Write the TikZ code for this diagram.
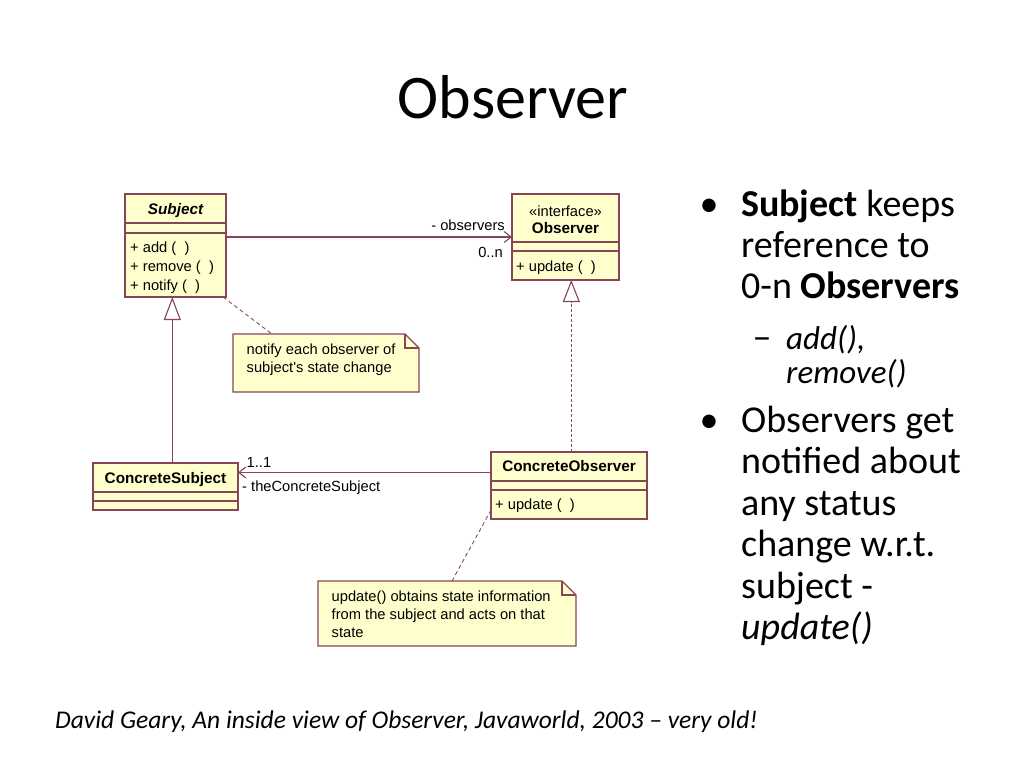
\documentclass[tikz,border=0pt]{standalone}
\usepackage{fontspec}
\setmainfont{Carlito}
\newfontfamily\umlfont{Liberation Sans}
\usetikzlibrary{arrows.meta,calc}
\definecolor{umlline}{RGB}{135,70,85}
\definecolor{umlfill}{RGB}{255,255,206}
\begin{document}
\begin{tikzpicture}[x=1pt,y=-1pt,
  umlbox/.style={draw=umlline, fill=umlfill, line width=1.1pt, inner sep=0pt, outer sep=0pt},
  compline/.style={draw=umlline, line width=1.1pt},
  notebody/.style={draw=none, fill=none, inner sep=0pt, outer sep=0pt},
  noteshape/.style={draw=umlline, fill=umlfill, line width=1.1pt, line join=miter},
  utext/.style={font=\umlfont\fontsize{14.7}{18}\selectfont, inner sep=0pt, anchor=base west},
  ubold/.style={font=\umlfont\bfseries\fontsize{15.3}{18}\selectfont, inner sep=0pt, anchor=base},
  assoc/.style={draw=umlline, line width=1.1pt, -{Straight Barb[length=7pt,width=11pt,line width=1.1pt]}},
  gen/.style={draw=umlline, line width=1.1pt, -{Triangle[open,fill=white,length=23pt,width=17pt,line width=1.1pt]}},
  real/.style={draw=umlline, line width=1pt, dash pattern=on 3pt off 2pt, -{Triangle[open,fill=white,length=22pt,width=17pt,line width=1.1pt]}},
  notelink/.style={draw=umlline!80!gray, line width=0.9pt, dash pattern=on 4pt off 3pt},
  bodytext/.style={font=\fontsize{38}{42}\selectfont, inner sep=0pt, anchor=base west},
  subtext/.style={font=\itshape\fontsize{33}{36}\selectfont, inner sep=0pt, anchor=base west}
]
\useasboundingbox (0,0) rectangle (1024,768);
\fill[white] (0,0) rectangle (1024,768);

% title
\node[font=\fontsize{62}{70}\selectfont, inner sep=0pt, anchor=base] (title) at (513,118) {Observer};

% Subject
\node[umlbox, minimum width=101pt, minimum height=103pt] (subject) at (175.5,245.5) {};
\draw[compline] (subject.west |- 0,223) -- (subject.east |- 0,223);
\draw[compline] (subject.west |- 0,233) -- (subject.east |- 0,233);
\node[ubold, font=\umlfont\bfseries\itshape\fontsize{15.3}{18}\selectfont] (subjname) at (175.5,214.5) {Subject};
\node[utext] (sm1) at (130,252.5) {+ add ( \ )};
\node[utext] (sm2) at (130,271.5) {+ remove ( \ )};
\node[utext] (sm3) at (130,290.5) {+ notify ( \ )};

% Observer
\node[umlbox, minimum width=107pt, minimum height=86pt] (observer) at (565.5,237) {};
\draw[compline] (observer.west |- 0,242) -- (observer.east |- 0,242);
\draw[compline] (observer.west |- 0,251) -- (observer.east |- 0,251);
\node[utext, anchor=base] (obsst) at (565.5,216) {«interface»};
\node[ubold] (obsname) at (565.5,233.5) {Observer};
\node[utext] (om1) at (516,271.5) {+ update ( \ )};

% ConcreteSubject
\node[umlbox, minimum width=145pt, minimum height=47pt] (concsub) at (165.5,486.5) {};
\draw[compline] (concsub.west |- 0,492) -- (concsub.east |- 0,492);
\draw[compline] (concsub.west |- 0,501) -- (concsub.east |- 0,501);
\node[ubold] (csname) at (165.5,483.5) {ConcreteSubject};

% ConcreteObserver
\node[umlbox, minimum width=156pt, minimum height=67pt] (concobs) at (569,485.5) {};
\draw[compline] (concobs.west |- 0,481) -- (concobs.east |- 0,481);
\draw[compline] (concobs.west |- 0,490) -- (concobs.east |- 0,490);
\node[ubold] (coname) at (569,471.5) {ConcreteObserver};
\node[utext] (com1) at (495,509.5) {+ update ( \ )};

% Note 1
\node[notebody, minimum width=186pt, minimum height=58pt] (note1) at (326,363) {};
\filldraw[noteshape] (note1.south west) -- (note1.north west) -- ([xshift=-14pt]note1.north east) -- ([yshift=-14pt]note1.north east) -- (note1.south east) -- cycle;
\draw[noteshape, fill=none] ([xshift=-14pt]note1.north east) |- ([yshift=-14pt]note1.north east);
\node[utext] (n1a) at (246.5,354.5) {notify each observer of};
\node[utext] (n1b) at (246.5,372.5) {subject's state change};

% Note 2
\node[notebody, minimum width=258pt, minimum height=65pt] (note2) at (447,613.5) {};
\filldraw[noteshape] (note2.south west) -- (note2.north west) -- ([xshift=-14pt]note2.north east) -- ([yshift=-14pt]note2.north east) -- (note2.south east) -- cycle;
\draw[noteshape, fill=none] ([xshift=-14pt]note2.north east) |- ([yshift=-14pt]note2.north east);
\node[utext] (n2a) at (331.5,601) {update() obtains state information};
\node[utext] (n2b) at (331.5,619) {from the subject and acts on that};
\node[utext] (n2c) at (331.5,637) {state};

% connectors
\draw[assoc] (subject.east |- observer.west) -- (observer.west);
\node[utext, anchor=base east] (lobs) at (505,230) {- observers};
\node[utext, anchor=base east] (lmult) at (503,257) {0..n};

\coordinate (gapex) at ([xshift=-3.2pt]subject.south);
\draw[gen] (concsub.north -| gapex) -- (gapex);

\coordinate (rapex) at ([xshift=5.8pt]observer.south);
\draw[real] (concobs.north -| rapex) -- (rapex);

\coordinate (a2) at ([yshift=13pt]concobs.west);
\draw[assoc] (a2) -- (concsub.east |- a2);
\node[utext] (l11) at (246.5,467) {1..1};
\node[utext] (lcs) at (242,491.5) {- theConcreteSubject};

\draw[notelink] ([xshift=-3pt]subject.south east) -- ([xshift=-54pt]note1.north);
\draw[notelink] ([yshift=-24.5pt]concobs.west) -- ([xshift=5pt]note2.north);

% right text
\node[bodytext, anchor=base] (bul1) at (709,216) {•};
\node[bodytext] (t1) at (741,216) {\textbf{Subject} keeps};
\node[bodytext] (t2) at (741,257) {reference to};
\node[bodytext] (t3) at (741,298) {0-n \textbf{Observers}};
\node[subtext, font=\fontsize{38}{40}\selectfont, anchor=base] (dash1) at (762,349) {–};
\node[subtext] (t4) at (786,349) {add(),};
\node[subtext] (t5) at (786,383) {remove()};
\node[bodytext, anchor=base] (bul2) at (709,432) {•};
\node[bodytext] (t6) at (741,432) {Observers get};
\node[bodytext] (t7) at (741,473.5) {notified about};
\node[bodytext] (t8) at (741,515) {any status};
\node[bodytext] (t9) at (741,556.5) {change w.r.t.};
\node[bodytext] (t10) at (741,598) {subject -};
\node[bodytext] (t11) at (741,639.5) {\textit{update()}};

% citation
\node[font=\itshape\fontsize{25.5}{28}\selectfont, inner sep=0pt, anchor=base west] (cite) at (55,728) {David Geary, An inside view of Observer, Javaworld, 2003 – very old!};
\end{tikzpicture}
\end{document}
